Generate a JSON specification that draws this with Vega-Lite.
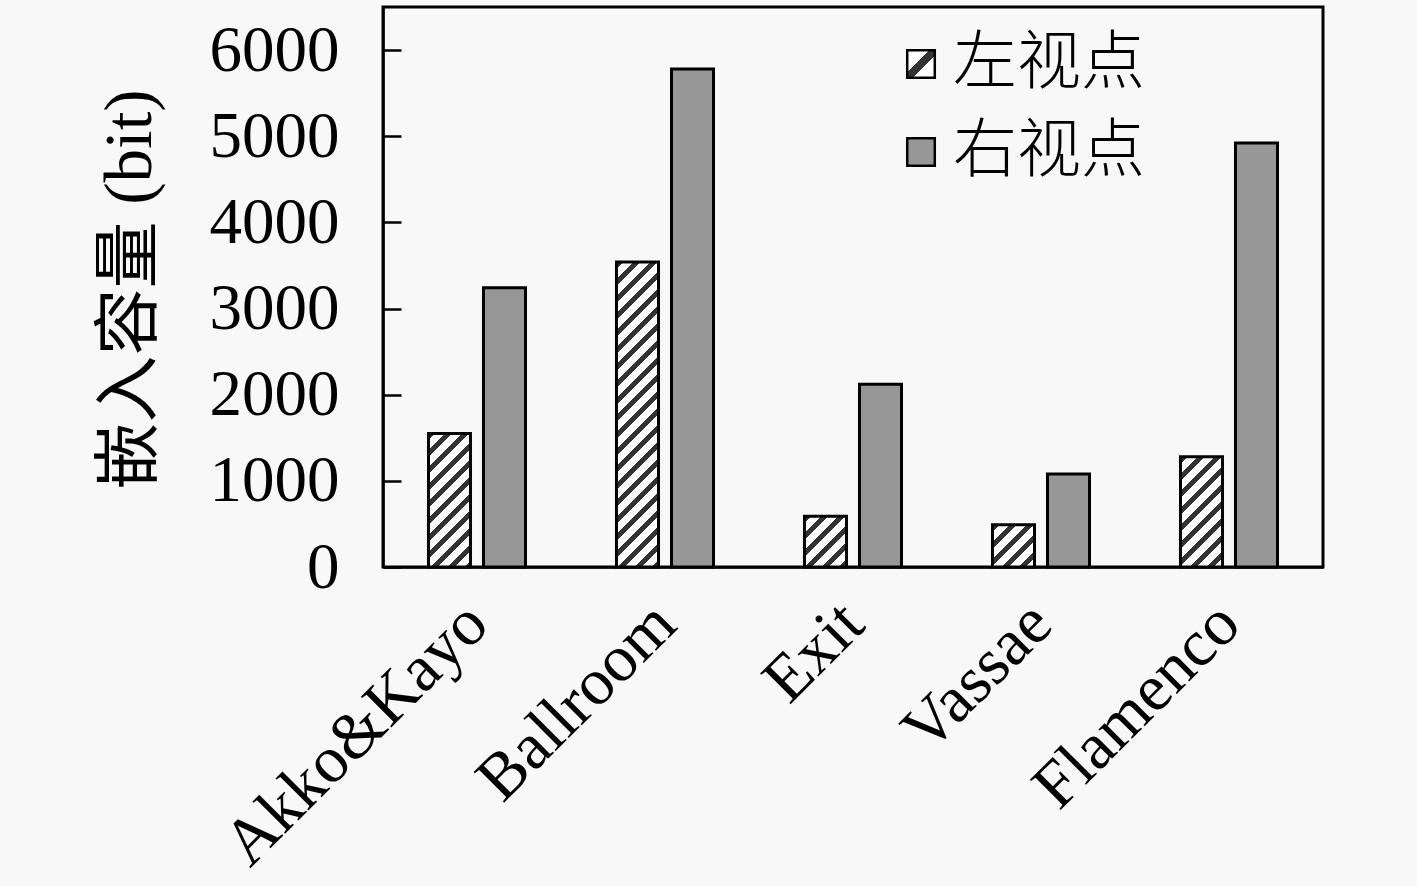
{
  "$schema": "https://vega.github.io/schema/vega-lite/v6.json",
  "description": "Embedding capacity per sequence, left and right views.",
  "width": 940,
  "height": 560,
  "autosize": "none",
  "padding": {"left": 383, "top": 7, "right": 94, "bottom": 319},
  "background": "#f8f8f8",
  "params": [
    {
      "name": "hatch",
      "expr": "[{offset:0,color:'#333'},{offset:0.0125,color:'#333'},{offset:0.0125,color:'#fff'},{offset:0.03125,color:'#fff'},{offset:0.03125,color:'#333'},{offset:0.04375,color:'#333'},{offset:0.04375,color:'#fff'},{offset:0.0625,color:'#fff'},{offset:0.0625,color:'#333'},{offset:0.075,color:'#333'},{offset:0.075,color:'#fff'},{offset:0.09375,color:'#fff'},{offset:0.09375,color:'#333'},{offset:0.10625,color:'#333'},{offset:0.10625,color:'#fff'},{offset:0.125,color:'#fff'},{offset:0.125,color:'#333'},{offset:0.1375,color:'#333'},{offset:0.1375,color:'#fff'},{offset:0.15625,color:'#fff'},{offset:0.15625,color:'#333'},{offset:0.16875,color:'#333'},{offset:0.16875,color:'#fff'},{offset:0.1875,color:'#fff'},{offset:0.1875,color:'#333'},{offset:0.2,color:'#333'},{offset:0.2,color:'#fff'},{offset:0.21875,color:'#fff'},{offset:0.21875,color:'#333'},{offset:0.23125,color:'#333'},{offset:0.23125,color:'#fff'},{offset:0.25,color:'#fff'},{offset:0.25,color:'#333'},{offset:0.2625,color:'#333'},{offset:0.2625,color:'#fff'},{offset:0.28125,color:'#fff'},{offset:0.28125,color:'#333'},{offset:0.29375,color:'#333'},{offset:0.29375,color:'#fff'},{offset:0.3125,color:'#fff'},{offset:0.3125,color:'#333'},{offset:0.325,color:'#333'},{offset:0.325,color:'#fff'},{offset:0.34375,color:'#fff'},{offset:0.34375,color:'#333'},{offset:0.35625,color:'#333'},{offset:0.35625,color:'#fff'},{offset:0.375,color:'#fff'},{offset:0.375,color:'#333'},{offset:0.3875,color:'#333'},{offset:0.3875,color:'#fff'},{offset:0.40625,color:'#fff'},{offset:0.40625,color:'#333'},{offset:0.41875,color:'#333'},{offset:0.41875,color:'#fff'},{offset:0.4375,color:'#fff'},{offset:0.4375,color:'#333'},{offset:0.45,color:'#333'},{offset:0.45,color:'#fff'},{offset:0.46875,color:'#fff'},{offset:0.46875,color:'#333'},{offset:0.48125,color:'#333'},{offset:0.48125,color:'#fff'},{offset:0.5,color:'#fff'},{offset:0.5,color:'#333'},{offset:0.5125,color:'#333'},{offset:0.5125,color:'#fff'},{offset:0.53125,color:'#fff'},{offset:0.53125,color:'#333'},{offset:0.54375,color:'#333'},{offset:0.54375,color:'#fff'},{offset:0.5625,color:'#fff'},{offset:0.5625,color:'#333'},{offset:0.575,color:'#333'},{offset:0.575,color:'#fff'},{offset:0.59375,color:'#fff'},{offset:0.59375,color:'#333'},{offset:0.60625,color:'#333'},{offset:0.60625,color:'#fff'},{offset:0.625,color:'#fff'},{offset:0.625,color:'#333'},{offset:0.6375,color:'#333'},{offset:0.6375,color:'#fff'},{offset:0.65625,color:'#fff'},{offset:0.65625,color:'#333'},{offset:0.66875,color:'#333'},{offset:0.66875,color:'#fff'},{offset:0.6875,color:'#fff'},{offset:0.6875,color:'#333'},{offset:0.7,color:'#333'},{offset:0.7,color:'#fff'},{offset:0.71875,color:'#fff'},{offset:0.71875,color:'#333'},{offset:0.73125,color:'#333'},{offset:0.73125,color:'#fff'},{offset:0.75,color:'#fff'},{offset:0.75,color:'#333'},{offset:0.7625,color:'#333'},{offset:0.7625,color:'#fff'},{offset:0.78125,color:'#fff'},{offset:0.78125,color:'#333'},{offset:0.79375,color:'#333'},{offset:0.79375,color:'#fff'},{offset:0.8125,color:'#fff'},{offset:0.8125,color:'#333'},{offset:0.825,color:'#333'},{offset:0.825,color:'#fff'},{offset:0.84375,color:'#fff'},{offset:0.84375,color:'#333'},{offset:0.85625,color:'#333'},{offset:0.85625,color:'#fff'},{offset:0.875,color:'#fff'},{offset:0.875,color:'#333'},{offset:0.8875,color:'#333'},{offset:0.8875,color:'#fff'},{offset:0.90625,color:'#fff'},{offset:0.90625,color:'#333'},{offset:0.91875,color:'#333'},{offset:0.91875,color:'#fff'},{offset:0.9375,color:'#fff'},{offset:0.9375,color:'#333'},{offset:0.95,color:'#333'},{offset:0.95,color:'#fff'},{offset:0.96875,color:'#fff'},{offset:0.96875,color:'#333'},{offset:0.98125,color:'#333'},{offset:0.98125,color:'#fff'},{offset:1,color:'#fff'}]"
    },
    {
      "name": "legendHatch",
      "expr": "{gradient:'linear',x1:0,y1:0,x2:1,y2:1,stops:[{offset:0,color:'#fff'},{offset:0.4,color:'#fff'},{offset:0.4,color:'#333'},{offset:0.6,color:'#333'},{offset:0.6,color:'#fff'},{offset:1,color:'#fff'}]}"
    }
  ],
  "data": {
    "values": [
      {"seq": "Akko&Kayo", "view": "左视点", "value": 1550},
      {"seq": "Akko&Kayo", "view": "右视点", "value": 3240},
      {"seq": "Ballroom", "view": "左视点", "value": 3540},
      {"seq": "Ballroom", "view": "右视点", "value": 5780},
      {"seq": "Exit", "view": "左视点", "value": 590},
      {"seq": "Exit", "view": "右视点", "value": 2120},
      {"seq": "Vassae", "view": "左视点", "value": 490},
      {"seq": "Vassae", "view": "右视点", "value": 1080},
      {"seq": "Flamenco", "view": "左视点", "value": 1280},
      {"seq": "Flamenco", "view": "右视点", "value": 4920}
    ]
  },
  "mark": {
    "type": "bar",
    "strokeWidth": 3,
    "fill": {"expr": "datum.value == '左视点' ? legendHatch : datum.view == '左视点' ? {gradient: 'linear', x1: 0, y1: 0, x2: 544 * bandwidth('xOffset') / (pow(bandwidth('xOffset'), 2) + pow(scale('y', 0) - scale('y', datum.value), 2)), y2: 544 * (scale('y', 0) - scale('y', datum.value)) / (pow(bandwidth('xOffset'), 2) + pow(scale('y', 0) - scale('y', datum.value), 2)), stops: hatch} : '#979797'"}
  },
  "encoding": {
    "x": {
      "field": "seq",
      "type": "nominal",
      "sort": null,
      "scale": {"paddingInner": 0, "paddingOuter": 0},
      "axis": {
        "title": null,
        "ticks": false,
        "labelAngle": -45,
        "labelAlign": "right",
        "labelBaseline": "middle",
        "labelPadding": 46,
        "labelLimit": 0,
        "labelFont": "Liberation Serif",
        "labelFontSize": 66,
        "labelColor": "black",
        "domainColor": "black",
        "domainWidth": 2.5
      }
    },
    "xOffset": {
      "field": "view",
      "type": "nominal",
      "sort": ["左视点", "右视点"],
      "scale": {"paddingInner": 0.236, "paddingOuter": 0.827}
    },
    "y": {
      "field": "value",
      "type": "quantitative",
      "stack": null,
      "scale": {"domain": [0, 6500], "nice": false},
      "axis": {
        "title": "嵌入容量  (bit)",
        "titleFont": "Liberation Serif, Noto Sans CJK SC",
        "titleFontSize": 67,
        "titleFontWeight": "normal",
        "titleColor": "black",
        "titleX": -253,
        "titleY": 282,
        "titleAngle": -90,
        "titleAlign": "center",
        "titleBaseline": "middle",
        "values": [0, 1000, 2000, 3000, 4000, 5000, 6000],
        "format": "d",
        "labelFont": "Liberation Serif",
        "labelFontSize": 65,
        "labelColor": "black",
        "labelPadding": 62,
        "labelOverlap": false,
        "tickSize": -18,
        "tickWidth": 2.5,
        "tickColor": "black",
        "domainColor": "black",
        "domainWidth": 2.5
      }
    },
    "stroke": {
      "field": "view",
      "type": "nominal",
      "scale": {"domain": ["左视点", "右视点"], "range": ["black", "black"]},
      "legend": {
        "title": null,
        "orient": "none",
        "legendX": 506,
        "legendY": 25,
        "symbolType": "square",
        "symbolSize": 760,
        "symbolStrokeWidth": 2.5,
        "labelFont": "Noto Sans CJK SC",
        "labelFontSize": 64,
        "labelFontWeight": 300,
        "labelColor": "black",
        "labelLimit": 0,
        "labelOffset": 0,
        "rowPadding": 24
      }
    }
  },
  "config": {
    "view": {"stroke": "black", "strokeWidth": 3},
    "axis": {"grid": false}
  }
}
